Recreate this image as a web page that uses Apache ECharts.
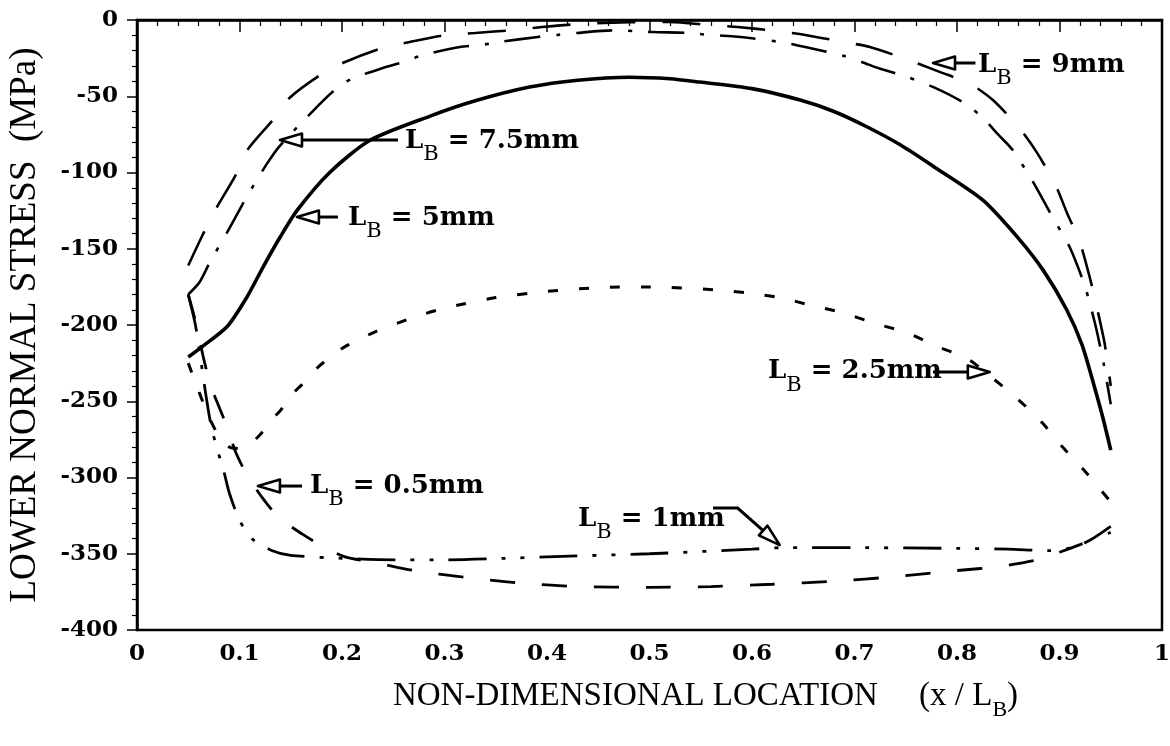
<!DOCTYPE html>
<html><head><meta charset="utf-8">
<script src="https://cdn.jsdelivr.net/npm/echarts@6/dist/echarts.min.js"></script>
<style>html,body{margin:0;padding:0;background:#fff}#c{width:1170px;height:746px}</style>
</head><body><div id="c"></div>
<script>
// ---- data (x = x/L_B, y = stress in MPa) ----
const lb9 = [[0.05,-161],[0.064,-141],[0.076,-125],[0.096,-102],[0.108,-85],[0.132,-66],[0.149,-51],[0.179,-36],[0.203,-27.5],[0.239,-18.4],[0.266,-14.4],[0.30,-10],[0.33,-8.5],[0.367,-6.6],[0.395,-4.6],[0.432,-2.6],[0.48,-1.5],[0.52,-1.3],[0.559,-3.3],[0.586,-4.6],[0.624,-7.2],[0.652,-9.8],[0.689,-14.4],[0.715,-17.7],[0.747,-24.9],[0.783,-34],[0.813,-42],[0.835,-52.5],[0.861,-71],[0.878,-87],[0.896,-108],[0.907,-126],[0.92,-146],[0.93,-170],[0.937,-190],[0.944,-212],[0.95,-240]];
const lb75 = [[0.05,-180],[0.061,-172],[0.071,-159],[0.089,-138],[0.098,-127],[0.107,-116],[0.127,-94],[0.14,-82],[0.177,-56],[0.191,-47],[0.208,-39],[0.242,-31],[0.26,-27.5],[0.279,-23],[0.315,-17.7],[0.335,-16.4],[0.354,-14.4],[0.391,-11.1],[0.41,-9.8],[0.429,-8.5],[0.464,-6.8],[0.484,-7.2],[0.503,-7.9],[0.54,-8.5],[0.558,-9.8],[0.577,-10.5],[0.6,-12],[0.633,-15],[0.652,-17.7],[0.689,-23.5],[0.707,-27.5],[0.725,-32],[0.75,-37],[0.777,-44],[0.806,-54],[0.825,-64],[0.84,-75],[0.854,-85],[0.874,-106],[0.884,-118],[0.893,-129],[0.91,-149],[0.925,-175],[0.935,-200],[0.943,-225],[0.95,-252]];
const lb5 = [[0.05,-221],[0.064,-214],[0.088,-201],[0.107,-182],[0.123,-162],[0.14,-142],[0.156,-125],[0.188,-100],[0.227,-79],[0.286,-63],[0.33,-53],[0.383,-44],[0.43,-39.5],[0.48,-37.5],[0.52,-38.5],[0.549,-40.7],[0.6,-45],[0.647,-52.5],[0.68,-60],[0.712,-70],[0.745,-82],[0.777,-96],[0.825,-118],[0.861,-144],[0.885,-165],[0.907,-190],[0.922,-213],[0.933,-238],[0.942,-260],[0.95,-282]];
const lb25 = [[0.05,-225],[0.06,-243],[0.07,-260],[0.08,-273],[0.09,-280],[0.1,-281],[0.112,-277],[0.12,-272],[0.133,-261],[0.14,-256],[0.152,-245],[0.161,-239],[0.176,-228],[0.183,-224],[0.201,-215],[0.234,-204],[0.27,-195],[0.3,-189],[0.35,-182],[0.4,-178],[0.45,-175.5],[0.5,-175],[0.566,-177],[0.596,-179],[0.627,-182],[0.66,-187.5],[0.689,-192],[0.72,-199],[0.751,-205],[0.78,-214],[0.81,-222],[0.835,-235],[0.86,-249],[0.883,-264],[0.903,-280],[0.925,-296],[0.95,-316]];
const lb1 = [[0.05,-180],[0.057,-200],[0.062,-222],[0.067,-245],[0.072,-265],[0.078,-281],[0.084,-294],[0.09,-310],[0.1,-328],[0.112,-340],[0.132,-348],[0.15,-351],[0.2,-353],[0.25,-354],[0.3,-354],[0.36,-353],[0.4,-352],[0.5,-350],[0.6,-347],[0.63,-346],[0.7,-346],[0.8,-346.5],[0.85,-347],[0.89,-348],[0.913,-346],[0.93,-341],[0.95,-332]];
const lb05 = [[0.05,-180],[0.058,-200],[0.065,-222],[0.072,-240],[0.079,-252],[0.088,-267],[0.096,-283],[0.107,-298],[0.122,-313],[0.138,-326],[0.161,-337],[0.181,-345],[0.203,-352],[0.234,-356],[0.27,-361],[0.32,-365.5],[0.37,-369],[0.43,-371.5],[0.5,-372],[0.56,-371.5],[0.62,-370],[0.68,-368],[0.74,-365],[0.8,-361],[0.84,-358.5],[0.878,-354],[0.9,-349],[0.92,-344],[0.95,-336]];

const curveNames = ['9mm','7.5mm','5mm','2.5mm','1mm','0.5mm'];
// annotation: label value, text anchor (data), arrow path (data, last point = tip)
const notes = [
  {v:'9mm',   at:[0.8205,-29.5], path:[[0.818,-28.2],[0.7766,-28.2]]},
  {v:'7.5mm', at:[0.2615,-79.3], path:[[0.2546,-78.7],[0.1395,-78.7]]},
  {v:'5mm',   at:[0.2059,-129.8],path:[[0.196,-129.2],[0.156,-129.2]]},
  {v:'0.5mm', at:[0.1688,-305.6],path:[[0.161,-305.6],[0.118,-305.6]]},
  {v:'2.5mm', at:[0.6156,-230.2],path:[[0.7766,-230.8],[0.832,-230.8]]},
  {v:'1mm',   at:[0.4302,-327.2],path:[[0.562,-320],[0.586,-320],[0.627,-344.3]]}
];

const serifB = 'DejaVu Serif';
const serif = 'Liberation Serif';
const chart = echarts.init(document.getElementById('c'), null, {renderer:'canvas'});

function mk(name, data, type, width) {
  return {name, type:'line', data, showSymbol:false, smooth:0.25, animation:false,
    lineStyle:{color:'#000', width, type, cap:'butt'}};
}

chart.setOption({
  backgroundColor:'#fff',
  animation:false,
  grid:{left:137, right:8, top:20, bottom:116, outerBoundsMode:'none', containLabel:false, show:true, borderColor:'#000', borderWidth:2.5, backgroundColor:'transparent'},
  xAxis:{type:'value', min:0, max:1, interval:0.1,
    name:'{t|NON-DIMENSIONAL LOCATION     (x / L}{s|B}{t|)}', nameLocation:'middle', nameGap:27,
    nameTextStyle:{padding:[0,0,0,112], rich:{t:{fontFamily:serif, fontSize:33, color:'#000', lineHeight:33}, s:{fontFamily:serif, fontSize:22, color:'#000', lineHeight:22, padding:[28,0,0,0]}}},
    axisLine:{lineStyle:{color:'#000', width:2.5}},
    axisTick:{inside:false, length:12, lineStyle:{color:'#000', width:1.5}},
    minorTick:{show:true, splitNumber:5, length:6, lineStyle:{color:'#000', width:1.2}},
    splitLine:{show:false},
    axisLabel:{margin:13, color:'#000', fontFamily:serifB, fontWeight:'bold', fontSize:23}
  },
  yAxis:{type:'value', min:-400, max:0, interval:50,
    name:'LOWER NORMAL STRESS  (MPa)', nameLocation:'middle', nameGap:93, nameRotate:90,
    nameTextStyle:{fontFamily:serif, fontSize:37, color:'#000'},
    axisLine:{lineStyle:{color:'#000', width:2.5}},
    axisTick:{inside:false, length:10, lineStyle:{color:'#000', width:1.5}},
    minorTick:{show:true, splitNumber:5, length:5, lineStyle:{color:'#000', width:1.2}},
    splitLine:{show:false},
    axisLabel:{margin:19, color:'#000', fontFamily:serifB, fontWeight:'bold', fontSize:23}
  },
  series:[
    mk(curveNames[0], lb9, [38,27], 2.6),
    mk(curveNames[1], lb75, [36,16,4,16], 2.6),
    mk(curveNames[2], lb5, 'solid', 3.6),
    mk(curveNames[3], lb25, [10,21], 3),
    mk(curveNames[4], lb1, [38,15,4,15,4,15], 2.8),
    mk(curveNames[5], lb05, [25,27], 2.8)
  ]
});

function px(p){ return chart.convertToPixel({gridIndex:0}, p); }
const graphics = [];
notes.forEach(n => {
  const a = px(n.at);
  graphics.push({type:'text', x:a[0], y:a[1], z:100, style:{
    text:'{l|L}{s|B}{e| = ' + n.v + '}', align:'left', verticalAlign:'middle',
    rich:{
      l:{fontFamily:serifB, fontWeight:'bold', fontSize:26, fill:'#000', lineHeight:26},
      s:{fontFamily:serifB, fontWeight:'normal', fontSize:21, fill:'#000', lineHeight:21, padding:[28,0,0,0]},
      e:{fontFamily:serifB, fontWeight:'bold', fontSize:26, fill:'#000', lineHeight:26}
    }}});
  const p = n.path.map(px);
  const tip = p[p.length-1], prev = p[p.length-2];
  const dx = tip[0]-prev[0], dy = tip[1]-prev[1], L = Math.hypot(dx,dy);
  const ux = dx/L, uy = dy/L, nx = -uy, ny = ux, len = 22, hw = 6.5;
  const base = [tip[0]-ux*len, tip[1]-uy*len];
  graphics.push({type:'polyline', z:99, shape:{points:p.slice(0,-1).concat([base])}, style:{stroke:'#000', lineWidth:3, fill:null}});
  graphics.push({type:'polygon', z:99, shape:{points:[tip,[base[0]+nx*hw,base[1]+ny*hw],[base[0]-nx*hw,base[1]-ny*hw]]}, style:{fill:'#fff', stroke:'#000', lineWidth:2.6, lineJoin:'round'}});
});
chart.setOption({graphic:graphics});
</script>
</body></html>
